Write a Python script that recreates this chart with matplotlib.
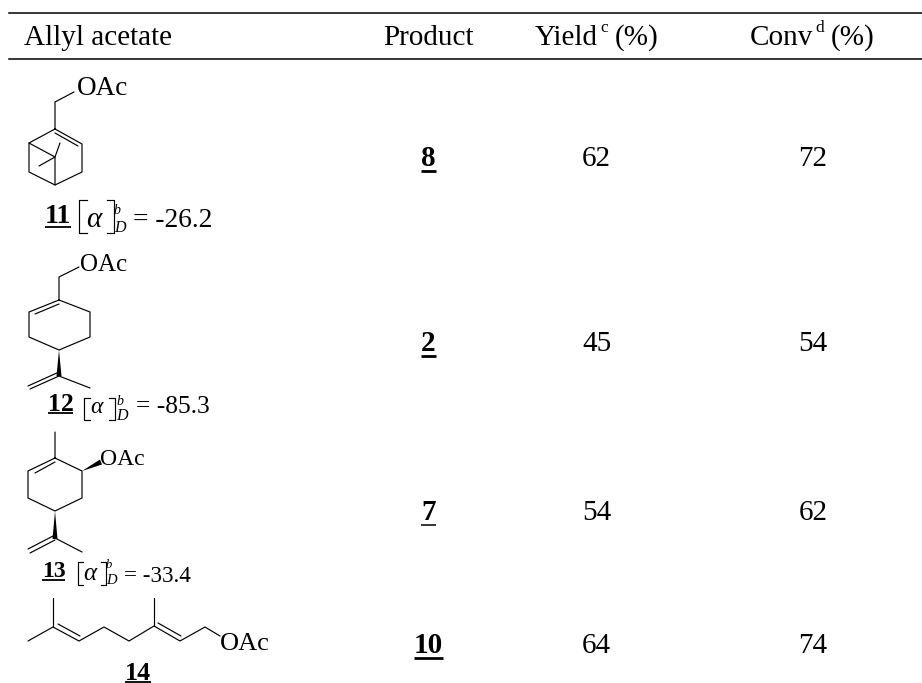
import matplotlib
matplotlib.use("Agg")
import matplotlib.pyplot as plt

plt.rcParams["font.family"] = ["Liberation Serif", "DejaVu Serif"]

W, H = 922, 683
BODY = 21
LW = 0.85

PRODUCTS = ["8", "2", "7", "10"]
YIELDS = ["62", "45", "54", "64"]
CONVS = ["72", "54", "62", "74"]
ROW_BASE = [166, 351, 520, 653]
RULE_W = [2.0, 2.0, 1.1, 2.0]

# atoms are in image pixels, each chain is a polyline
BONDS_11 = [
    [(74, 92), (55, 102), (55, 129), (82, 144), (82, 172), (55, 185), (29, 172), (29, 143), (55, 129)],
    [(55, 133), (78, 146)],
    [(29, 143), (55, 157), (55, 185)],
    [(39, 166), (55, 157), (60, 143)],
]
BONDS_12 = [
    [(79, 267), (59, 277), (59, 300), (90, 312), (90, 337), (59, 350), (29, 337), (29, 312), (59, 300)],
    [(35, 314), (59, 304)],
    [(59, 376), (90, 388)],
    [(28, 386), (59, 372)],
    [(30, 389), (59, 376)],
]
WEDGES_12 = [[(59, 350), (56.5, 376), (61.5, 376)]]
BONDS_13 = [
    [(55, 432), (55, 458), (82, 471), (82, 498), (55, 511), (28, 498), (28, 471), (55, 458)],
    [(35, 473), (55, 462)],
    [(55, 538), (82, 552)],
    [(28, 549), (55, 535)],
    [(30, 553), (55, 540)],
]
WEDGES_13 = [
    [(82, 471), (100, 459.5), (102, 464.5)],
    [(55, 511), (52.5, 539), (57.5, 539)],
]
BONDS_14 = [
    [(28, 641), (53, 627), (79, 641), (104, 627), (129, 641), (154, 626), (180, 641), (205, 627), (220, 636)],
    [(53, 598), (53, 627)],
    [(154, 598), (154, 626)],
    [(58, 624), (80, 636)],
    [(158, 623), (181, 636)],
]

BRACKETS = [
    (78.5, 86.5, 106.5, 113.5, 200, 233),
    (83.5, 90, 108.5, 115, 398, 420),
    (77.5, 83, 100.5, 106, 562, 585),
]
ALPHAS = [(86, 227, 21), (90, 413, 17), (83, 580, 18)]
B_MARKS = [(113, 214, 10), (116, 405, 10), (106, 568, 9)]
D_MARKS = [(114, 232, 11.5), (116, 420, 11.5), (106, 584, 10.5)]
LABEL_NUMS = [("11", 58, 223, 227, 20), ("12", 60.5, 411, 413, 18.5), ("13", 53.5, 577, 580, 17)]
LABEL_VALS = [("= -26.2", 133, 227, 19.7), ("= -85.3", 136, 413, 18.4), ("= -33.4", 124, 582, 16.7)]


def draw_bonds(ax, chains):
    for chain in chains:
        xs, ys = zip(*chain)
        ax.plot(xs, ys, color="black", lw=LW, solid_capstyle="round", solid_joinstyle="round")


def underlined(ax, x, y, s, size, line_y, line_w):
    t = ax.text(x, y, s, fontsize=size, fontweight="bold", ha="center", va="baseline")
    box = t.get_window_extent(ax.figure.canvas.get_renderer())
    ax.plot([box.x0, box.x1], [line_y, line_y], color="black", lw=line_w, solid_capstyle="butt")


fig = plt.figure(figsize=(W / 100, H / 100), dpi=100)
ax = fig.add_axes([0, 0, 1, 1])
ax.set_xlim(0, W)
ax.set_ylim(H, 0)
ax.axis("off")
fig.canvas.draw()

ax.plot([9, W], [12.5, 12.5], color="black", lw=1.1)
ax.plot([9, W], [59, 59], color="black", lw=1.1)

ax.text(24, 45, "Allyl acetate", fontsize=BODY, ha="left", va="baseline")
ax.text(383, 45, "Product", fontsize=BODY, ha="left", va="baseline")
ax.text(535, 45, "Yield", fontsize=BODY, ha="left", va="baseline")
ax.text(600, 32, "c", fontsize=12.5, ha="left", va="baseline")
ax.text(615, 45, "(%)", fontsize=BODY, ha="left", va="baseline")
ax.text(750, 45, "Conv", fontsize=BODY, ha="left", va="baseline")
ax.text(815, 32, "d", fontsize=12.5, ha="left", va="baseline")
ax.text(831, 45, "(%)", fontsize=BODY, ha="left", va="baseline")

for prod, yld, conv, base, rule_w in zip(PRODUCTS, YIELDS, CONVS, ROW_BASE, RULE_W):
    underlined(ax, 428.5, base, prod, BODY, base + 5, rule_w)
    ax.text(596.5, base, yld, fontsize=BODY, ha="center", va="baseline")
    ax.text(813, base, conv, fontsize=BODY, ha="center", va="baseline")

draw_bonds(ax, BONDS_11)
draw_bonds(ax, BONDS_12)
draw_bonds(ax, BONDS_13)
draw_bonds(ax, BONDS_14)
for wedge in WEDGES_12 + WEDGES_13:
    ax.fill(*zip(*wedge), color="black", lw=0)

ax.text(77, 95, "OAc", fontsize=19.5, ha="left", va="baseline")
ax.text(80, 271, "OAc", fontsize=18, ha="left", va="baseline")
ax.text(100, 465, "OAc", fontsize=17, ha="left", va="baseline")
ax.text(220, 650, "OAc", fontsize=19, ha="left", va="baseline")

for (x0, x1, x2, x3, top, bottom) in BRACKETS:
    ax.plot([x1, x0, x0, x1], [top, top, bottom, bottom], color="black", lw=LW)
    ax.plot([x2, x3, x3, x2], [top, top, bottom, bottom], color="black", lw=LW)
for x, y, size in ALPHAS:
    ax.text(x, y, "\u03b1", fontsize=size, style="italic", ha="left", va="baseline")
for x, y, size in B_MARKS:
    ax.text(x, y, "b", fontsize=size, style="italic", ha="left", va="baseline")
for x, y, size in D_MARKS:
    ax.text(x, y, "D", fontsize=size, style="italic", ha="left", va="baseline")
for num, x, base, line_y, size in LABEL_NUMS:
    underlined(ax, x, base, num, size, line_y, 1.3)
for val, x, base, size in LABEL_VALS:
    ax.text(x, base, val, fontsize=size, ha="left", va="baseline")
underlined(ax, 138, 680, "14", 18.7, 682, 1.3)

fig.savefig("out.png", dpi=100)
